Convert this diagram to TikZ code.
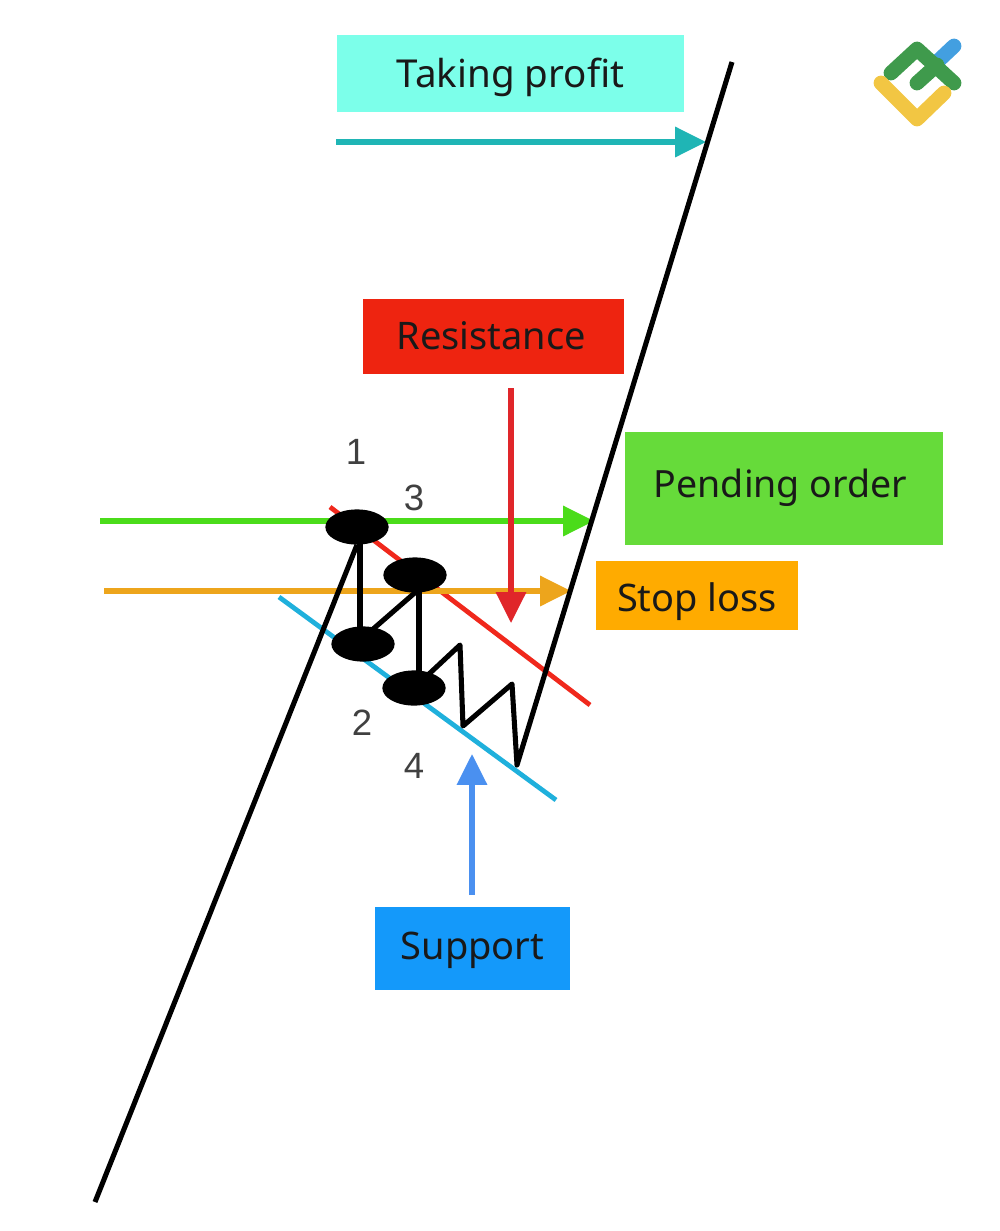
\documentclass[tikz,border=0pt]{standalone}
\usepackage{fontspec}
\setmainfont{Noto Sans}
\newfontfamily\digitfont{Liberation Sans}
\usepackage{xcolor}
\usetikzlibrary{arrows.meta, shapes.geometric}
\definecolor{profitfill}{HTML}{7CFFEA}
\definecolor{profitline}{HTML}{1FB5B5}
\definecolor{resistfill}{HTML}{EE2410}
\definecolor{resistline}{HTML}{E0262A}
\definecolor{slantred}{HTML}{F0281C}
\definecolor{pendfill}{HTML}{66DB3A}
\definecolor{pendline}{HTML}{4BDC1A}
\definecolor{stopfill}{HTML}{FFAB00}
\definecolor{stopline}{HTML}{EDA51C}
\definecolor{suppfill}{HTML}{1499FA}
\definecolor{suppline}{HTML}{4A90F0}
\definecolor{slantblue}{HTML}{1FB0DC}
\definecolor{logogreen}{HTML}{3F9A4C}
\definecolor{logoyellow}{HTML}{F2C643}
\definecolor{logoblue}{HTML}{439FE0}
\tikzstyle{label} = [rectangle, inner sep=0pt, text depth=0pt, text=black!90, font=\fontsize{27.4}{32}\selectfont]
\tikzstyle{arrow} = [line width=3.6pt, -{Triangle[length=22pt,width=21pt]}]
\tikzstyle{slant} = [line width=3.4pt]
\tikzstyle{price} = [line width=3.6pt, black, line join=round]
\tikzstyle{swing} = [ellipse, draw=none, fill=black, minimum width=45pt, minimum height=25pt, inner sep=0pt]
\tikzstyle{digit} = [inner sep=0pt, text=black!75, font=\digitfont\fontsize{26}{28}\selectfont]
\tikzstyle{logo} = [line width=10.5pt, line cap=round, line join=round]

\begin{document}
\begin{tikzpicture}[x=0.025cm, y=-0.025cm]
    \useasboundingbox (0,0) rectangle (1000,1231);

    % boxes
    \node[label, fill=profitfill, text height=20.5pt, minimum width=247.4pt, minimum height=54.6pt] (profit) at (510.5,73.5) {Taking profit};
    \node[label, fill=resistfill, text height=19.1pt, minimum width=185pt, minimum height=53.2pt] (resist) at (493.5,336.5) {\fontsize{27}{32}\selectfont Resistance\kern3pt};
    \node[label, fill=pendfill, text height=13.5pt, minimum width=226.4pt, minimum height=80.6pt] (pending) at (784,488.5) {\fontsize{26.7}{32}\selectfont Pending order\kern5pt};
    \node[label, fill=stopfill, text height=23.4pt, minimum width=143.2pt, minimum height=48.9pt] (stop) at (697,595.5) {\fontsize{27}{32}\selectfont Stop loss};
    \node[label, fill=suppfill, text height=16.3pt, minimum width=138.2pt, minimum height=58.8pt] (supp) at (472.5,948.5) {\fontsize{27}{32}\selectfont Support};

    % free ends
    \coordinate (tpA) at (336,142);
    \coordinate (tpB) at (706,142);
    \coordinate (peA) at (100,521);
    \coordinate (peB) at (594,521);
    \coordinate (slA) at (104,591);
    \coordinate (slB) at (571,591);
    \coordinate (reA) at (511,388);
    \coordinate (reB) at (511,623);
    \coordinate (suA) at (472,895);
    \coordinate (suB) at (472,754);
    \coordinate (redA) at (330,507);
    \coordinate (redB) at (590,705);
    \coordinate (bluA) at (279,597);
    \coordinate (bluB) at (556,800);
    \coordinate (start) at (95,1202);
    \coordinate (top) at (732,62);
    \coordinate (z1) at (460,645);
    \coordinate (z2) at (463,726);
    \coordinate (z3) at (512,684);
    \coordinate (z4) at (517,765);
    \coordinate (v1) at (360,530);
    \coordinate (v2) at (360,640);
    \coordinate (v3) at (419,580);
    \coordinate (v4) at (419,685);
    \coordinate (d1) at (372,630);
    \coordinate (d2) at (418,590);

    % channel
    \draw[slant, slantred] (redA) -- (redB);
    \draw[slant, slantblue] (bluA) -- (bluB);

    \draw[arrow, pendline] (peA) -- (peB);
    \draw[arrow, stopline] (slA) -- (slB);
    \draw[arrow, resistline] (reA) -- (reB);
    \draw[arrow, suppline] (suA) -- (suB);
    \draw[arrow, profitline] (tpA) -- (tpB);

    % swings
    \node[swing] (one) at (357,527) {};
    \node[swing] (three) at (415,575) {};
    \node[swing] (two) at (363,644) {};
    \node[swing] (four) at (414,688) {};

    \draw[price] (start) -- (one.south);
    \draw[price] (v1) -- (v2);
    \draw[price] (d1) -- (d2);
    \draw[price] (v3) -- (v4);
    \draw[price] (four.center) -- (z1) -- (z2) -- (z3) -- (z4) -- (top);

    \node[digit] (n1) at (356,452) {1};
    \node[digit] (n3) at (414,498) {3};
    \node[digit] (n2) at (362,723) {2};
    \node[digit] (n4) at (414,766) {4};

    % logo
    \coordinate (gA) at (891,73);
    \coordinate (gB) at (917,49);
    \coordinate (gC) at (954,83);
    \coordinate (gD) at (917,83);
    \coordinate (gE) at (937,65);
    \coordinate (bA) at (937,62);
    \coordinate (bB) at (954,46);
    \coordinate (yA) at (881,83);
    \coordinate (yB) at (917,119);
    \coordinate (yC) at (944,93);
    \draw[logo, logoblue] (bA) -- (bB);
    \draw[logo, logogreen] (gA) -- (gB) -- (gC);
    \draw[logo, logogreen] (gD) -- (gE);
    \draw[logo, logoyellow] (yA) -- (yB) -- (yC);
\end{tikzpicture}
\end{document}
